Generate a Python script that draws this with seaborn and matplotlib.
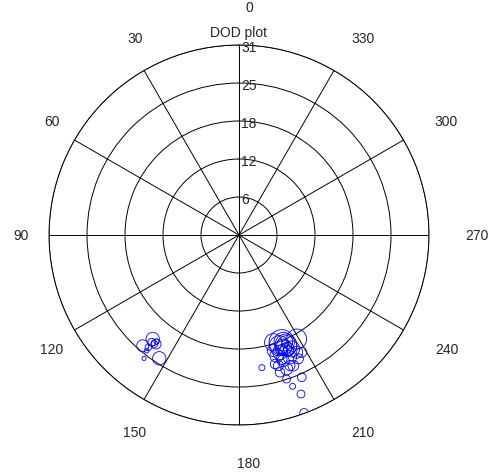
import numpy as np
import pandas as pd
import matplotlib
matplotlib.use("Agg")
import matplotlib.pyplot as plt
import matplotlib.transforms as mtransforms
import seaborn as sns

# Direction-of-departure estimates: azimuth (deg), delay bin (radius), path power
azimuth_deg = [
    # cluster near 140 deg
    140.3, 139.0, 147.1, 142.7, 142.4, 141.4, 142.2, 140.9, 142.3, 141.1,
    # cluster near 200 deg
    201.7, 203.3, 201.5, 209.0, 196.8, 199.6, 205.6, 203.8, 198.3, 199.5,
    201.3, 200.1, 189.8, 197.3, 202.6, 199.4, 202.6, 201.0, 203.1, 199.3,
    204.8, 197.7, 208.1, 196.5, 202.6, 196.6, 202.9, 203.1, 202.6, 203.0,
    199.0, 206.2, 195.6, 201.3, 200.0,
]
radius = [
    22.05, 23.94, 23.95, 22.35, 25.40, 24.14, 22.52, 22.57, 21.98, 23.55,
    18.84, 19.66, 19.70, 19.40, 22.26, 23.20, 22.40, 25.37, 24.75, 26.19,
    27.84, 30.91, 21.96, 20.62, 21.62, 21.74, 19.55, 19.91, 20.51, 20.28,
    20.48, 18.38, 21.70, 19.68, 23.09, 23.38, 19.30, 19.52, 18.84, 20.20,
    21.39, 21.33, 21.85, 22.88, 19.22,
]
power = [
    4.0, 3.2, 4.0, 2.3, 0.4, 0.5, 1.0, 1.4, 0.6, 1.0,
    14.4, 9.0, 6.3, 9.0, 2.3, 3.2, 2.3, 1.7, 1.4, 0.8,
    1.4, 1.7, 0.8, 4.0, 4.0, 3.2, 0.6, 2.0, 2.6, 4.8,
    5.8, 6.8, 2.3, 3.2, 2.6, 2.0, 1.0, 10.9, 7.8, 4.0,
    2.6, 3.2, 2.0, 2.3, 9.0,
]

r_max = 31
ring_labels = ["6", "12", "18", "25", "31"]
angle_labels = [str(a) for a in range(0, 360, 30)]

df = pd.DataFrame({
    "theta": np.deg2rad(azimuth_deg),
    "r": radius,
    "power": power,
})

sns.set_style("white")
plt.rcParams["font.family"] = ["Liberation Sans", "DejaVu Sans"]
plt.rcParams["font.size"] = 10

fig = plt.figure(figsize=(5.0, 4.77), dpi=100)
ax = fig.add_axes([0.098, 0.1069, 0.76, 0.7966], projection="polar")
ax.set_theta_zero_location("N")
ax.set_theta_direction(1)
ax.set_ylim(0, r_max)

ring_vals = [r_max * (k + 1) / len(ring_labels) for k in range(len(ring_labels))]
ax.set_yticks(ring_vals)
ax.set_yticklabels([])
ax.set_xticks(np.deg2rad(np.arange(0, 360, 30)))
ax.set_xticklabels([])
ax.grid(True, color="black", linewidth=0.7, linestyle="-")
ax.spines["polar"].set_color("black")
ax.spines["polar"].set_linewidth(0.7)
ax.set_facecolor("white")

pmin, pmax = min(power), max(power)
area_per_unit = 23.0
sns.scatterplot(
    data=df, x="theta", y="r", size="power",
    sizes=(area_per_unit * pmin, area_per_unit * pmax),
    size_norm=(pmin, pmax),
    marker="o", color="blue", facecolor="none", edgecolor="blue",
    linewidth=0.6, legend=False, ax=ax, zorder=3,
)
ax.set_xlabel("")
ax.set_ylabel("")

# radial labels just right of the 0-degree spoke
rl_off = mtransforms.ScaledTranslation(2 / 100, -1.5 / 100, fig.dpi_scale_trans)
for val, lab in zip(ring_vals, ring_labels):
    ax.text(0, val, lab, ha="left", va="center", fontsize=10,
            transform=ax.transData + rl_off, zorder=4)

# angle labels around the outside
al_off = mtransforms.ScaledTranslation(10 / 100, 0, fig.dpi_scale_trans)
for lab in angle_labels:
    ax.text(np.deg2rad(float(lab)), r_max * 1.2, lab, ha="center", va="center",
            fontsize=10, transform=ax.transData + al_off, clip_on=False)

fig.text(238.3 / 500, 1 - 33.3 / 477, "DOD plot", ha="center", va="center",
         fontsize=10)

fig.savefig("out.png", dpi=100, facecolor="white")
